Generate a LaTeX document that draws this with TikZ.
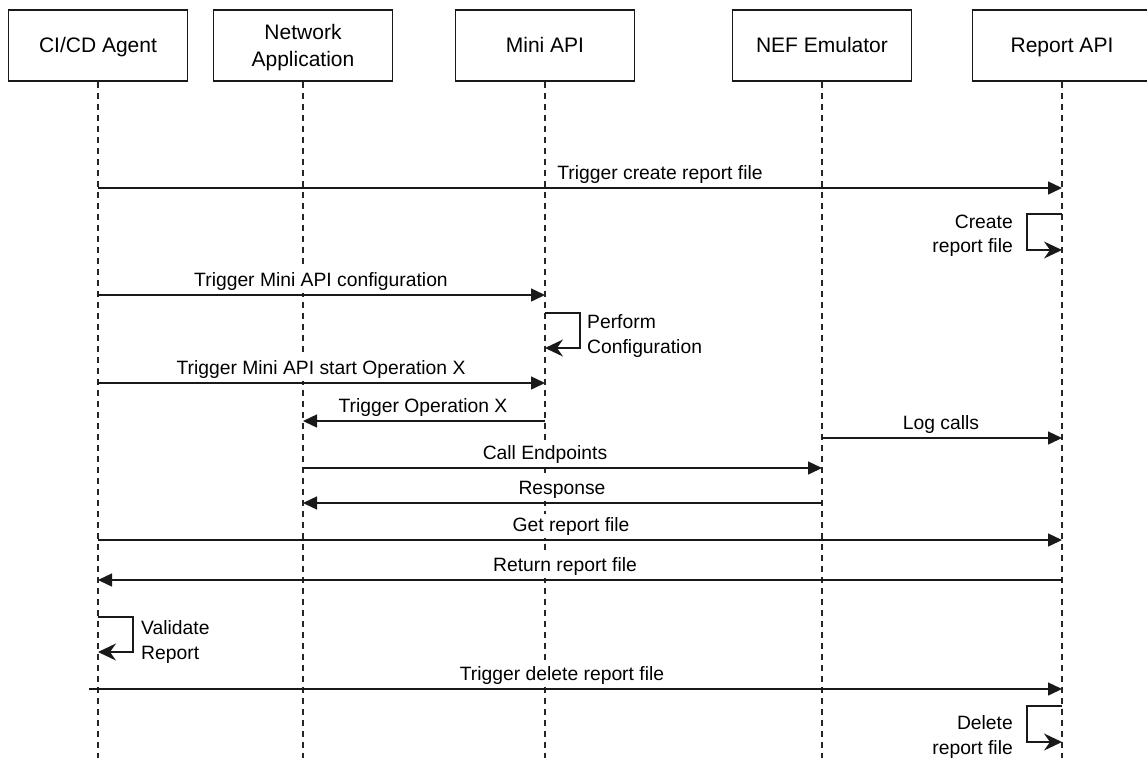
\documentclass[tikz,border=0pt]{standalone}
\usepackage{fontspec}
\setmainfont{Liberation Sans}
\usetikzlibrary{arrows.meta}
\begin{document}
\begin{tikzpicture}[x=1pt,y=-1pt,
  actor/.style={draw=black!90, line width=1.4pt, minimum width=179pt, minimum height=71pt,
    inner sep=0pt, fill=white},
  hdr/.style={font=\fontsize{21}{26.5}\selectfont, align=center, inner sep=0pt},
  life/.style={draw=black!85, line width=1.5pt, dash pattern=on 6pt off 5pt},
  msg/.style={draw=black!90, line width=1.4pt, -{Triangle[length=14pt,width=13pt]}},
  selfmsg/.style={draw=black!90, line width=1.4pt, -{Stealth[length=18pt,width=17pt,inset=6pt]}},
  lbl/.style={font=\fontsize{19.3}{24.5}\selectfont, inner sep=0pt},
  mlbl/.style={lbl, anchor=base, fill=white, inner ysep=3pt, inner xsep=1pt},
]
\useasboundingbox (0,0) rectangle (1147,758);
\clip (0,0) rectangle (1147,758);

% participants
\node[actor] (ci)   at (98,45.5)   {};
\node[actor] (na)   at (303,45.5)  {};
\node[actor] (mini) at (545,45.5)  {};
\node[actor] (nef)  at (822,45.5)  {};
\node[actor] (rep)  at (1062,45.5) {};
\node[hdr, anchor=base] (ci-t)   at (ci.center |- 0,52.5)   {CI/CD Agent};
\node[hdr] (na-t)                at (na.center |- 0,47.5)   {Network\\Application};
\node[hdr, anchor=base] (mini-t) at (mini.center |- 0,52.5) {Mini API};
\node[hdr, anchor=base] (nef-t)  at (nef.center |- 0,52.5)  {NEF Emulator};
\node[hdr, anchor=base] (rep-t)  at (rep.center |- 0,52.5)  {Report API};

% lifelines
\foreach \p in {ci,na,mini,nef,rep}{
  \coordinate (\p-end) at (\p |- 0,758);
  \draw[life] (\p.south) -- (\p-end);
}

% messages (labels are set on white so lifelines pass behind them)
\draw[msg] (ci |- 0,188) -- (rep |- 0,188);
\node[mlbl] (m1) at (660,179) {Trigger create report file};

\draw[selfmsg] (rep |- 0,214) -| (1027,250) -- (rep |- 0,250);
\node[lbl, anchor=east, align=right] (s1) at (1013,236) {Create\\report file};

\draw[msg] (ci |- 0,295) -- (mini |- 0,295);
\node[mlbl] (m2) at (321,286) {Trigger Mini API configuration};

\draw[selfmsg] (mini |- 0,313) -| (580,348) -- (mini |- 0,348);
\node[lbl, anchor=west, align=left] (s2) at (587,336) {Perform\\Configuration};

\draw[msg] (ci |- 0,383) -- (mini |- 0,383);
\node[mlbl] (m3) at (321,374) {Trigger Mini API start Operation X};

\draw[msg] (mini |- 0,421) -- (na |- 0,421);
\node[mlbl] (m4) at (423,412) {Trigger Operation X};

\draw[msg] (nef |- 0,438) -- (rep |- 0,438);
\node[mlbl] (m5) at (941,429) {Log calls};

\draw[msg] (na |- 0,468) -- (nef |- 0,468);
\node[mlbl] (m6) at (545,459) {Call Endpoints};

\draw[msg] (nef |- 0,503) -- (na |- 0,503);
\node[mlbl] (m7) at (562,494) {Response};

\draw[msg] (ci |- 0,540) -- (rep |- 0,540);
\node[mlbl] (m8) at (571,531) {Get report file};

\draw[msg] (rep |- 0,580) -- (ci |- 0,580);
\node[mlbl] (m9) at (565,571) {Return report file};

\draw[selfmsg] (ci |- 0,617) -| (133,652) -- (ci |- 0,652);
\node[lbl, anchor=west, align=left] (s3) at (141,642) {Validate\\Report};

\coordinate (delstart) at (89,689);
\draw[msg] (delstart) -- (rep |- delstart);
\node[mlbl] (m10) at (562,680) {Trigger delete report file};

\draw[selfmsg] (rep |- 0,706) -| (1027,742) -- (rep |- 0,742);
\node[lbl, anchor=east, align=right] (s4) at (1013,737) {Delete\\report file};
\end{tikzpicture}
\end{document}
